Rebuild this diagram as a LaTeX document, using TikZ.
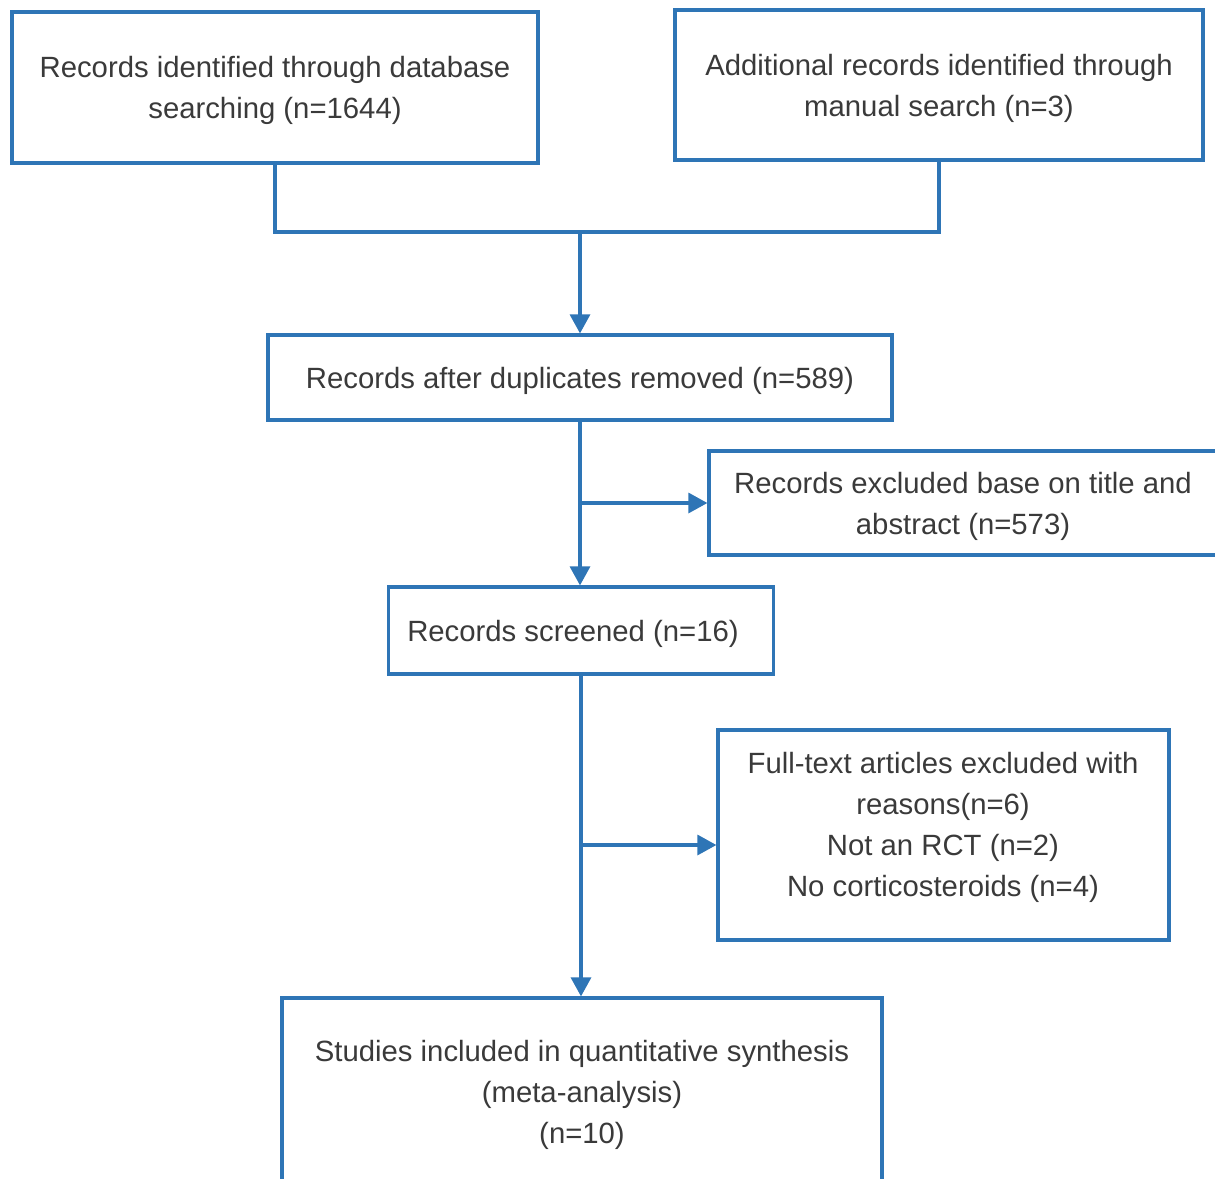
\documentclass[tikz,border=0pt]{standalone}
\usepackage{fontspec}
\setmainfont{Liberation Sans}
\usetikzlibrary{arrows.meta}
\definecolor{lineblue}{HTML}{2E75B6}
\definecolor{txt}{HTML}{3A3A3A}
\newcommand{\topstrut}{\rule{0pt}{27.5pt}}
\tikzset{
  box/.style={draw=lineblue, line width=3.2pt, fill=white, inner sep=0pt, align=center, text=txt,
    font=\fontsize{29.3}{41}\selectfont},
  lbl/.style={inner sep=0pt, align=center, text=txt, font=\fontsize{29.3}{41}\selectfont},
  conn/.style={draw=lineblue, line width=3.2pt},
  arr/.style={conn, -{Triangle[width=20pt,length=19pt]}}
}
\begin{document}
\begin{tikzpicture}[x=1pt,y=-1pt]
\useasboundingbox (0,0) rectangle (1215,1178);
\clip (0,0) rectangle (1215,1178);
\node[box, minimum width=526pt, minimum height=151pt] (A) at (275,87.5)
  {\topstrut Records identified through database\\searching (n=1644)};
\node[box, minimum width=528pt, minimum height=150pt] (B) at (939,85)
  {\topstrut Additional records identified through\\manual search (n=3)};
\node[box, minimum width=624pt, minimum height=85pt] (C) at (580,377.5)
  {\topstrut Records after duplicates removed (n=589)};
\node[box, minimum width=508pt, minimum height=104pt] (E) at (963,503)
  {\topstrut Records excluded base on title and\\abstract (n=573)};
\node[box, minimum width=385pt, minimum height=87pt] (D) at (581,630.5)
  {\topstrut\hspace*{-16pt}Records screened (n=16)};
\node[box, minimum width=451pt, minimum height=210pt] (G) at (943.5,835) {};
\node[lbl] (Gt) at (943,827)
  {Full-text articles excluded with\\reasons(n=6)\\Not an RCT (n=2)\\No corticosteroids (n=4)};
\node[box, minimum width=600pt, minimum height=220pt] (F) at (582,1108) {};
\node[lbl] (Ft) at (582,1095)
  {Studies included in quantitative synthesis\\(meta-analysis)\\(n=10)};
\coordinate (J) at (580,232);
\coordinate (K) at (581,503);
\coordinate (L) at (581,845);
\draw[conn] (A.south) |- (J) -| (B.south);
\draw[arr] (J) -- (J |- C.north);
\draw[arr] (C.south) -- (C.south |- D.north);
\draw[arr] (K) -- (E.west);
\draw[arr] (D.south) -- (D.south |- F.north);
\draw[arr] (L) -- (L -| G.west);
\end{tikzpicture}
\end{document}
